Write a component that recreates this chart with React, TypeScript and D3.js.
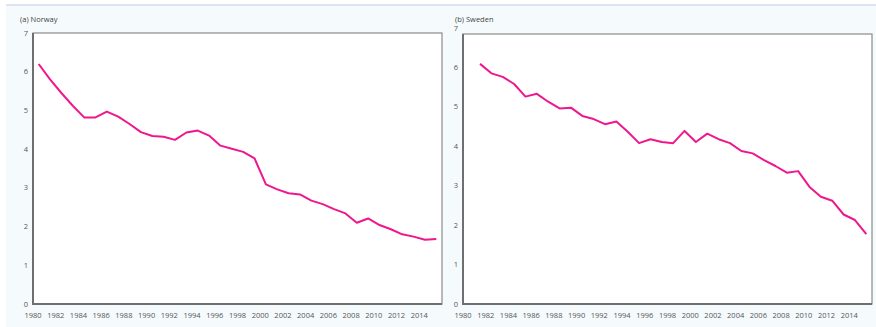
import React from 'react'
import * as d3 from 'd3'

const norwayYears = d3.range(1980, 2016)
const norwayValues = [
  6.2, 5.8, 5.45, 5.12, 4.82, 4.82, 4.97, 4.84, 4.65, 4.44,
  4.34, 4.32, 4.24, 4.43, 4.48, 4.35, 4.09, 4.01, 3.93, 3.76,
  3.09, 2.96, 2.86, 2.83, 2.67, 2.58, 2.45, 2.34, 2.1, 2.21,
  2.04, 1.93, 1.8, 1.74, 1.66, 1.68,
]

const swedenYears = d3.range(1981, 2016)
const swedenValues = [
  6.09, 5.85, 5.76, 5.58, 5.26, 5.33, 5.13, 4.96, 4.98, 4.77,
  4.69, 4.56, 4.63, 4.37, 4.08, 4.18, 4.11, 4.08, 4.39, 4.11,
  4.32, 4.18, 4.08, 3.88, 3.82, 3.65, 3.5, 3.33, 3.37, 2.97,
  2.72, 2.62, 2.27, 2.13, 1.77,
]

const xTicks = d3.range(1980, 2016, 2)
const yTicks = d3.range(0, 8)

const W = 876
const H = 327
const LINE = '#ef178e'
const TXT = '#555'
const FONT = '"Open Sans", "DejaVu Sans", sans-serif'

type PanelProps = {
  title: string
  years: number[]
  values: number[]
  left: number
  right: number
  top: number
  yTopPx: number
  titleX: number
}

function Panel({ title, years, values, left, right, top, yTopPx, titleX }: PanelProps) {
  const bottom = 304
  const x = d3.scaleLinear().domain([1980, 2016]).range([left, right])
  const y = d3.scaleLinear().domain([0, 7]).range([bottom, yTopPx])
  const line = d3.line<number>()
    .x((_, i) => x(years[i] + 0.5))
    .y(d => y(d))

  return (
    <g>
      <text x={titleX} y={22} fontSize={7.5} fill='#444' fontFamily={FONT}>{title}</text>
      <rect x={left} y={top} width={right - left} height={bottom - top} fill='#fff' />
      {yTicks.map(t => (
        <text key={t} x={left - 5} y={y(t)} dy='0.35em' textAnchor='end' fontSize={7.5} fill={TXT} fontFamily={FONT}>{t}</text>
      ))}
      {xTicks.map(t => (
        <text key={t} x={x(t)} y={318} textAnchor='middle' fontSize={7.5} fill={TXT} fontFamily={FONT}>{t}</text>
      ))}
      <path d={line(values) ?? ''} fill='none' stroke={LINE} strokeWidth={2} strokeLinejoin='round' />
      <rect x={left} y={top} width={right - left} height={bottom - top} fill='none' stroke='#8a8a8a' strokeWidth={1.2} />
      <path d={`M${left},${top}V${bottom}H${right}`} fill='none' stroke='#6f6f6f' strokeWidth={2} />
    </g>
  )
}

export default function App() {
  return (
    <div>
      <style>{'body{margin:0}'}</style>
      <svg width={W} height={H} style={{ display: 'block' }}>
        <rect x={0} y={0} width={W} height={H} fill='#fff' />
        <rect x={6} y={5} width={W - 6} height={H - 5} fill='#f5fbfd' />
        <line x1={6} x2={W} y1={5} y2={5} stroke='#d3dcf0' strokeWidth={1.5} />
        <Panel title='(a) Norway' years={norwayYears} values={norwayValues}
          left={33} right={442} top={33} yTopPx={33} titleX={20} />
        <Panel title='(b) Sweden' years={swedenYears} values={swedenValues}
          left={463} right={872} top={34} yTopPx={28} titleX={455} />
      </svg>
    </div>
  )
}
